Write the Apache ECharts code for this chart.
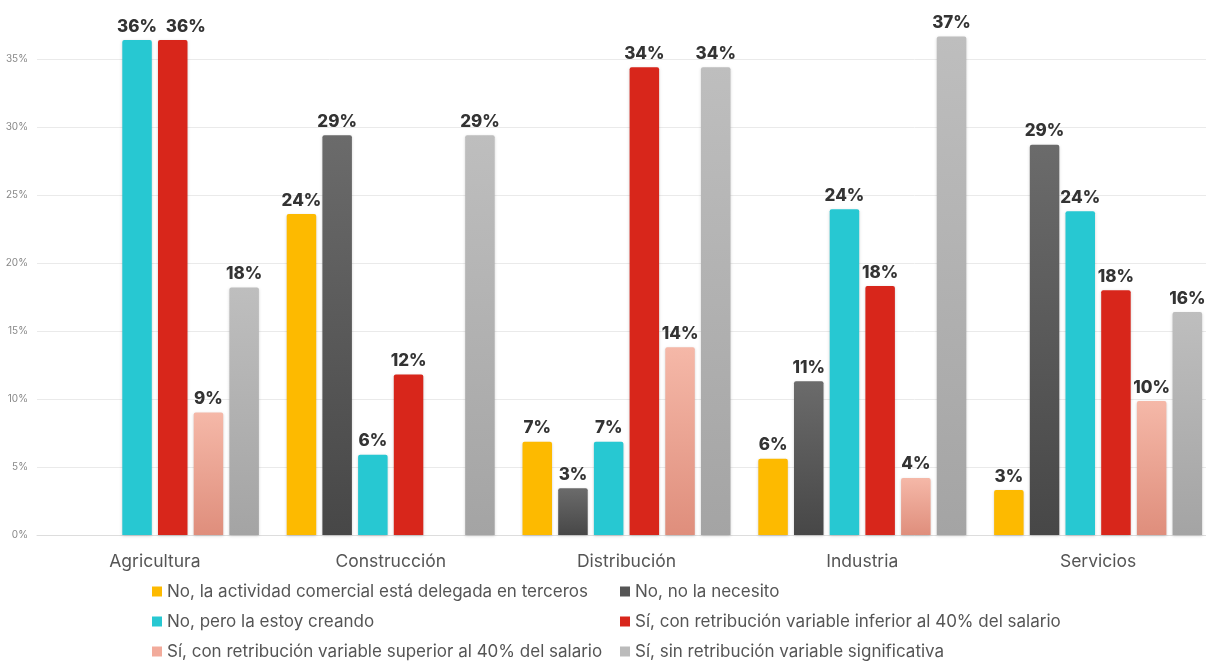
<!DOCTYPE html>
<html>
<head>
<meta charset="utf-8">
<script src="https://cdn.jsdelivr.net/npm/echarts@6/dist/echarts.min.js"></script>
<style>
  html, body { margin: 0; padding: 0; background: #ffffff; }
  #chart { width: 1206px; height: 662px; }
</style>
</head>
<body>
<div id="chart"></div>
<script>
// Sectors on the x axis
const categories = ['Agricultura', 'Construcción', 'Distribución', 'Industria', 'Servicios'];

// Answer shares per sector, in percent
const delegadaTerceros   = [0,    23.6, 6.86, 5.6,  3.3];
const noLaNecesito       = [0,    29.4, 3.43, 11.3, 28.7];
const estoyCreando       = [36.4, 5.9,  6.86, 23.95, 23.8];
const inferior40         = [36.4, 11.8, 34.4, 18.3, 18.0];
const superior40         = [9.0,  0,    13.8, 4.2,  9.85];
const sinRetribucion     = [18.2, 29.4, 34.4, 36.65, 16.4];

const seriesNames = [
  'No, la actividad comercial está delegada en terceros',
  'No, no la necesito',
  'No, pero la estoy creando',
  'Sí, con retribución variable inferior al 40% del salario',
  'Sí, con retribución variable superior al 40% del salario',
  'Sí, sin retribución variable significativa'
];

const yTicks = { min: 0, max: 35, interval: 5 };

const grad = (top, bottom) => new echarts.graphic.LinearGradient(0, 0, 0, 1, [
  { offset: 0, color: top }, { offset: 1, color: bottom }
]);

const fills = [
  '#FDBA00',
  grad('#6B6B6B', '#474747'),
  '#27C8D2',
  '#D8261B',
  grad('#F5B8A8', '#DF8E7C'),
  grad('#BEBEBE', '#A4A4A4')
];
const legendColors = ['#FDBA00', '#555555', '#27C8D2', '#D8261B', '#F2AB9B', '#BBBBBB'];
const values = [delegadaTerceros, noLaNecesito, estoyCreando, inferior40, superior40, sinRetribucion];

const chart = echarts.init(document.getElementById('chart'), null, { renderer: 'canvas' });

// When a bar has the same height as its left neighbour, nudge its label
// right so the two value labels do not run into each other.
const sameAsPrevious = (s, d) =>
  s > 0 && values[s - 1][d] > 0 && Math.abs(values[s - 1][d] - values[s][d]) < 0.5;

const series = values.map((data, i) => ({
  name: seriesNames[i],
  type: 'bar',
  data: data,
  clip: false,
  barWidth: 29.5,
  barGap: '21%',
  itemStyle: {
    color: fills[i],
    borderRadius: [2, 2, 0, 0],
    shadowBlur: 3,
    shadowColor: 'rgba(0,0,0,0.18)',
    shadowOffsetY: 1
  },
  labelLayout: p => (sameAsPrevious(i, p.dataIndex) ? { dx: 13 } : {}),
  label: {
    show: true,
    position: 'top',
    distance: 5,
    fontFamily: 'Inter',
    fontWeight: 800,
    fontSize: 17,
    color: '#333333',
    formatter: p => (p.value > 0 ? Math.round(p.value) + '%' : '')
  }
}));

const legendStyle = {
  orient: 'vertical',
  padding: 0,
  itemWidth: 10,
  itemHeight: 10,
  itemGap: 11,
  icon: 'rect',
  textStyle: { fontFamily: 'Inter', fontSize: 17, color: '#555555', lineHeight: 19 }
};

chart.setOption({
  animation: false,
  backgroundColor: '#ffffff',
  grid: { left: 37, top: 59, right: -10, height: 476, outerBoundsMode: 'none' },
  legend: [
    Object.assign({ left: 152, top: 582,
      data: [0, 2, 4].map(i => ({ name: seriesNames[i], itemStyle: { color: legendColors[i] } })) }, legendStyle),
    Object.assign({ left: 620, top: 582,
      data: [1, 3, 5].map(i => ({ name: seriesNames[i], itemStyle: { color: legendColors[i] } })) }, legendStyle)
  ],
  xAxis: {
    type: 'category',
    data: categories,
    axisTick: { show: false },
    axisLine: { lineStyle: { color: '#dddddd' } },
    axisLabel: { fontFamily: 'Inter', fontSize: 17.5, color: '#555555', margin: 18 }
  },
  yAxis: {
    type: 'value',
    min: yTicks.min,
    max: yTicks.max,
    interval: yTicks.interval,
    axisLine: { show: false },
    axisTick: { show: false },
    splitLine: { lineStyle: { color: '#eaeaea', width: 1 } },
    axisLabel: { fontFamily: 'Inter', fontSize: 10, color: '#888888', margin: 9, formatter: '{value}%' }
  },
  series: series
});
</script>
</body>
</html>
